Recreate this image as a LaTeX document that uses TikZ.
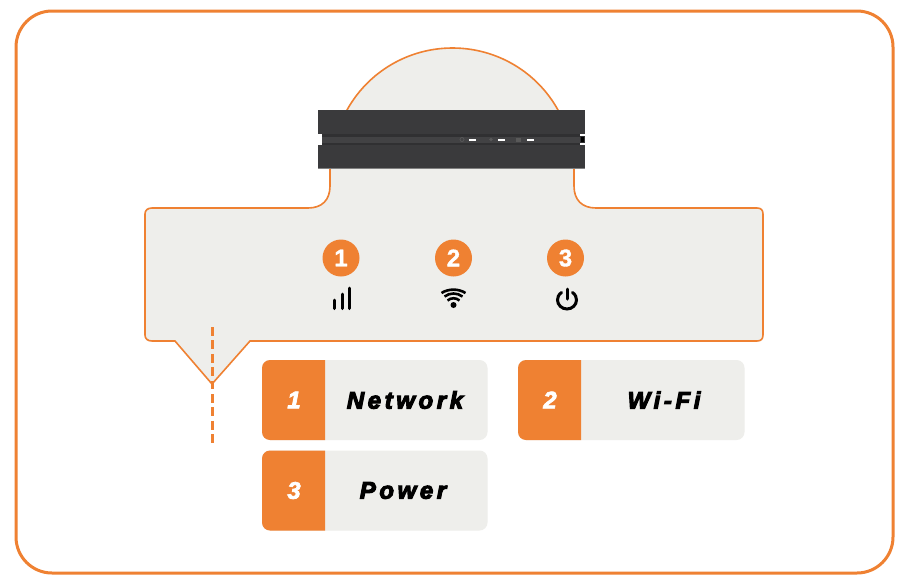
\documentclass[tikz,border=0pt]{standalone}
\usepackage{fontspec}
\setmainfont{Liberation Sans}
\newfontface\cardfont[LetterSpace=15,FakeBold=4.5]{Liberation Sans Bold Italic}
\newfontface\numfont[FakeBold=3]{Liberation Sans Bold Italic}
\newfontface\badgefont[FakeBold=1.5]{Liberation Sans Bold}
\definecolor{accent}{RGB}{239,129,50}
\definecolor{panel}{RGB}{238,238,235}
\definecolor{body}{RGB}{58,58,60}
\definecolor{slot}{RGB}{48,48,50}
\tikzset{
  x=1pt,y=-1pt,
  badge/.style={circle,fill=accent,minimum size=37pt,inner sep=0pt,text=white,font=\badgefont\fontsize{24}{24}\selectfont},
  cardbody/.style={draw=none,fill=panel,rounded corners=8pt,minimum width=#1,minimum height=80pt,inner sep=0pt},
  cardnum/.style={text=white,font=\numfont\fontsize{24}{24}\selectfont},
  cardtext/.style={text=black,font=\cardfont\fontsize{24}{24}\selectfont},
  icon/.style={line width=3pt,line cap=round,black},
}
\begin{document}
\begin{tikzpicture}
\useasboundingbox (0,0) rectangle (908,582);
\fill[white] (0,0) rectangle (908,582);
\draw[accent,line width=3pt,rounded corners=36pt] (16,11) rectangle (893,573);

% speech bubble
\draw[accent,line width=1.6pt,fill=panel] (347,110)
  .. controls (368.3,71.6) and (408.6,48) .. (452.5,48)
  .. controls (496.4,48) and (536.7,71.6) .. (558,110)
  -- (574,168) -- (574,186) .. controls (574,200) and (582,208) .. (596,208)
  -- (757,208) .. controls (761,208) and (763,210) .. (763,214)
  -- (763,335) .. controls (763,339) and (761,341) .. (757,341)
  -- (250,341) -- (212,384) -- (175,341)
  -- (152,341) .. controls (148,341) and (145,339) .. (145,335)
  -- (145,214) .. controls (145,210) and (148,208) .. (152,208)
  -- (308,208) .. controls (322,208) and (330,200) .. (330,186)
  -- (330,168) -- cycle;

% device
\fill[body] (318,110) rectangle (585,134);
\fill[body] (318,145) rectangle (585,168);
\fill[slot] (322,134) rectangle (580,145);
\fill[body!96!white] (322,137) rectangle (580,143);
\fill[slot] (580,136) rectangle (585,143);
\fill[black] (581,137) rectangle (583.5,142);
\draw[gray,line width=0.8pt] (318,168.4) -- (585,168.4);
\draw[gray!70!black,line width=0.7pt] (462,139.5) circle (2);
\fill[gray!70!black] (491,139.5) circle (1.8);
\fill[gray!70!black] (516,137.5) rectangle (521,141.5);
\fill[white] (469,138.5) rectangle (476,140.5);
\fill[white] (498,138.5) rectangle (505,140.5);
\fill[white] (527,138.5) rectangle (534,140.5);

% status badges
\node[badge] (badge1) at (341,258) {1};
\node[badge] (badge2) at (453.5,258) {2};
\node[badge] (badge3) at (565.5,258) {3};

% signal icon
\draw[icon] (334,300) -- (334,308.5);
\draw[icon] (342,294) -- (342,308.5);
\draw[icon] (349.8,288) -- (349.8,308.5);
% wifi icon
\fill[black] (453.5,305) circle (3);
\draw[icon,line cap=butt,line width=2.6pt] (447.5,300.5) .. controls (451,297.5) and (456,297.5) .. (459.5,300.5);
\draw[icon,line cap=butt,line width=2.6pt] (444.5,296.5) .. controls (450,292.5) and (457,292.5) .. (462.5,296.5);
\draw[icon,line cap=butt,line width=2.6pt] (441.5,293) .. controls (448.5,288.5) and (458.5,288.5) .. (465.5,293);
% power icon
\draw[icon] (561.5,292.5) .. controls (558.5,294.5) and (557.5,297.5) .. (557.5,300)
  .. controls (557.5,305) and (562,309) .. (567,309)
  .. controls (572,309) and (576.5,305) .. (576.5,300)
  .. controls (576.5,297.5) and (575.5,294.5) .. (572.5,292.5);
\draw[icon] (567,289) -- (567,299);

% dashed marker
\coordinate (dashtop) at (212,327);
\coordinate (dashend) at (212,447);
\draw[accent,line width=3pt,dash pattern=on 8.8pt off 4.6pt] (dashtop) -- (dashend);

% legend
\node[cardbody=225.5pt] (card1) at (374.75,400) {};
\fill[accent] (325,360) -- (270,360) .. controls (265.6,360) and (262,363.6) .. (262,368)
  -- (262,432) .. controls (262,436.4) and (265.6,440) .. (270,440) -- (325,440) -- cycle;
\node[cardnum] (num1) at (294,400) {1};
\node[cardtext] (text1) at (405,400) {Network};

\node[cardbody=226.5pt] (card2) at (631.25,400) {};
\fill[accent] (581,360) -- (526,360) .. controls (521.6,360) and (518,363.6) .. (518,368)
  -- (518,432) .. controls (518,436.4) and (521.6,440) .. (526,440) -- (581,440) -- cycle;
\node[cardnum] (num2) at (550,400) {2};
\node[cardtext] (text2) at (664,400) {Wi-Fi};

\node[cardbody=225.5pt] (card3) at (374.75,490.5) {};
\fill[accent] (325,450.5) -- (270,450.5) .. controls (265.6,450.5) and (262,454.1) .. (262,458.5)
  -- (262,522.5) .. controls (262,526.9) and (265.6,530.5) .. (270,530.5) -- (325,530.5) -- cycle;
\node[cardnum] (num3) at (294,490.5) {3};
\node[cardtext] (text3) at (403,490.5) {Power};
\end{tikzpicture}
\end{document}
